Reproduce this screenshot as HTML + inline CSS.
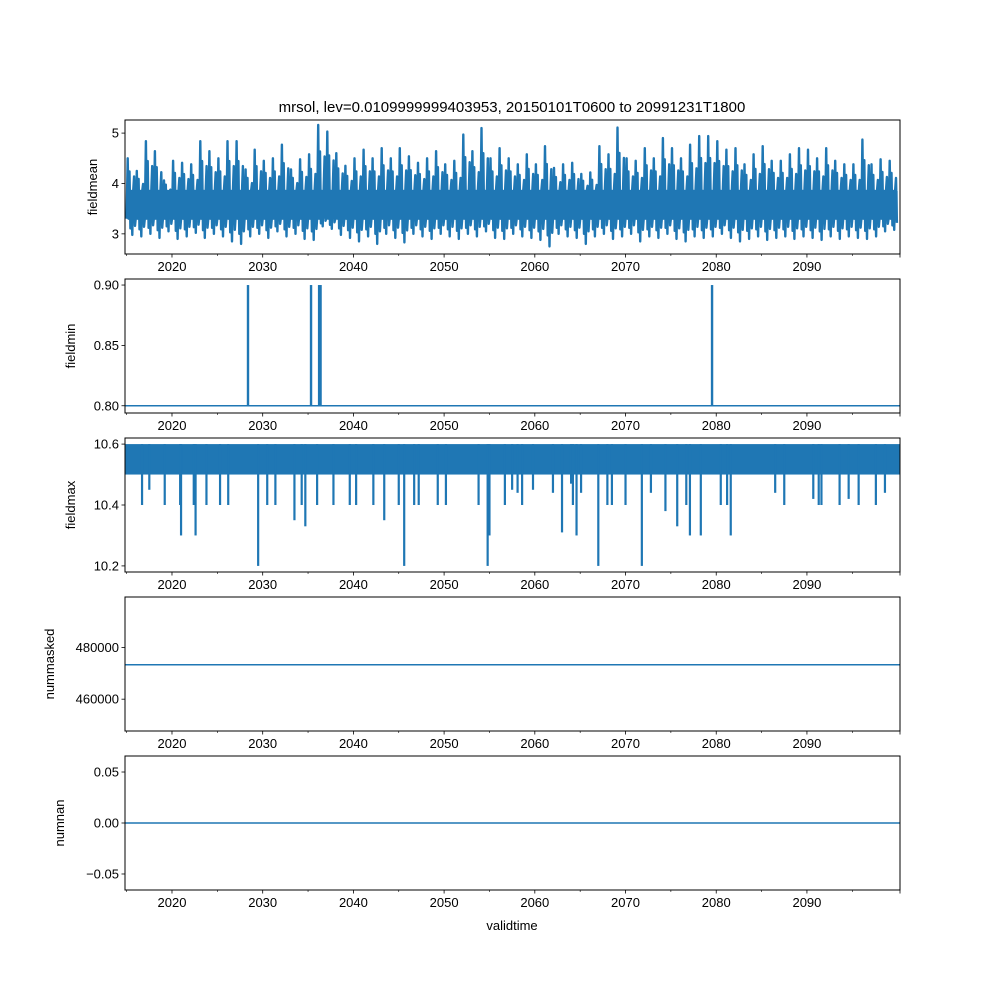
<!DOCTYPE html>
<html><head><meta charset="utf-8">
<style>
html,body{margin:0;padding:0;background:#fff;}
svg{display:block;font-family:"Liberation Sans","DejaVu Sans",sans-serif;}
</style></head>
<body>
<svg id="chart" width="1000" height="1000" viewBox="0 0 1000 1000" xmlns="http://www.w3.org/2000/svg">
<rect width="1000" height="1000" fill="#fff"/>
<text x="512" y="112" font-size="15" text-anchor="middle" fill="#000">mrsol, lev=0.0109999999403953, 20150101T0600 to 20991231T1800</text>
<text x="512" y="930" font-size="13" text-anchor="middle" fill="#000">validtime</text>
</svg>
<script>
// ---- data ----
const xTickYears = [2020, 2030, 2040, 2050, 2060, 2070, 2080, 2090];
const xMinorYears = [2015, 2025, 2035, 2045, 2055, 2065, 2075, 2085, 2095];
const meanYears = [];
for (let y = 2015; y <= 2099; y++) meanYears.push(y);
const meanHigh = [4.5,4.25,4.84,4.64,4.06,4.45,4.41,4.38,4.84,4.64,4.5,4.84,4.84,4.28,4.67,4.45,4.5,4.77,4.28,4.48,4.58,5.16,5.03,4.6,4.35,4.5,4.67,4.5,4.7,4.5,4.7,4.54,4.41,4.5,4.64,4.38,4.45,4.97,4.64,5.1,4.5,4.7,4.5,4.38,4.58,4.38,4.74,4.31,4.38,4.41,4.19,4.22,4.74,4.58,5.11,4.5,4.45,4.7,4.5,4.9,4.7,4.5,4.77,4.94,4.94,4.84,4.67,4.7,4.38,4.58,4.74,4.45,4.45,4.58,4.7,4.67,4.5,4.7,4.45,4.38,4.38,4.87,4.38,4.48,4.45];
const meanLow = [2.98,2.95,3.0,2.92,3.05,2.9,2.95,3.02,2.92,3.0,2.95,2.85,2.8,2.95,3.0,2.92,3.05,2.95,3.0,2.9,2.88,3.15,3.1,2.98,2.92,2.85,2.95,2.8,3.0,2.92,2.83,3.0,2.95,2.9,3.0,2.95,2.9,3.0,2.95,3.05,2.92,2.9,3.0,2.95,2.92,2.88,2.75,3.0,2.95,2.92,2.8,2.95,3.0,2.9,2.95,3.0,2.85,2.95,2.92,3.0,2.9,2.85,2.95,2.92,2.95,3.0,2.92,2.85,2.9,2.95,2.88,2.92,2.95,2.9,2.95,2.92,2.88,2.95,2.9,2.95,2.92,2.9,2.95,3.05,3.08];
const meanCore = [3.3, 3.85];
const minBase = 0.8;
const minSpikeYears = [2028.38, 2035.33, 2036.22, 2036.38, 2079.54];
const minSpikeVals = [0.9, 0.9, 0.9, 0.9, 0.9];
const maxTop = 10.6, maxBand = 10.5;
const maxDipYears = [2016.7,2017.5,2019.2,2021.0,2022.4,2023.8,2020.9,2025.3,2022.6,2026.2,2030.5,2031.4,2033.5,2034.3,2036.0,2037.8,2029.5,2040.3,2042.2,2045.6,2047.2,2049.3,2050.2,2034.7,2039.6,2043.4,2045.0,2046.7,2053.8,2054.8,2055.0,2056.7,2057.5,2058.1,2058.6,2059.8,2062.0,2063.0,2064.0,2064.2,2065.1,2064.6,2067.0,2068.0,2068.5,2070.0,2071.8,2072.8,2074.4,2075.7,2076.7,2077.1,2078.3,2080.5,2081.2,2081.6,2086.5,2087.5,2090.7,2091.3,2091.6,2093.6,2094.6,2095.7,2097.6,2098.6];
const maxDipVals  = [10.4,10.45,10.4,10.3,10.4,10.4,10.4,10.4,10.3,10.4,10.4,10.4,10.35,10.4,10.4,10.4,10.2,10.4,10.4,10.2,10.4,10.4,10.4,10.33,10.4,10.35,10.4,10.4,10.4,10.2,10.3,10.4,10.45,10.44,10.4,10.45,10.44,10.31,10.47,10.4,10.44,10.3,10.2,10.4,10.4,10.4,10.2,10.44,10.38,10.33,10.4,10.3,10.3,10.4,10.4,10.3,10.44,10.4,10.42,10.4,10.4,10.4,10.42,10.4,10.4,10.44];
const maskedVal = 473300;
const nanVal = 0;
const panelYTicks = [[3,4,5],[0.80,0.85,0.90],[10.2,10.4,10.6],[460000,480000],[-0.05,0.00,0.05]];
const panelYLabels = [["3","4","5"],["0.80","0.85","0.90"],["10.2","10.4","10.6"],["460000","480000"],["−0.05","0.00","0.05"]];
const panelNames = ["fieldmean","fieldmin","fieldmax","nummasked","numnan"];
const panelYDomains = [[2.6,5.26],[0.794,0.905],[10.18,10.62],[447700,499500],[-0.0657,0.0657]];

// ---- layout ----
const svg = document.getElementById('chart');
const NS = 'http://www.w3.org/2000/svg';
const L = 125, R = 900;
const tops = [120, 279, 438, 597, 756], H = 134;
const xDom = [2014.82, 2100.26];
const C = '#1f77b4';
function xs(v){ return L + (v - xDom[0]) / (xDom[1] - xDom[0]) * (R - L); }
function mk(tag, attrs, parent){
  const e = document.createElementNS(NS, tag);
  for (const k in attrs) e.setAttribute(k, attrs[k]);
  (parent || svg).appendChild(e);
  return e;
}

tops.forEach((top, i) => {
  const g = mk('g', {});
  
  
  const dom = panelYDomains[i];
  const ys = v => top + H - (v - dom[0]) / (dom[1] - dom[0]) * H;
  const clipId = 'clip' + i;
  const cp = mk('clipPath', {id: clipId}, g);
  mk('rect', {x: L, y: top, width: R - L, height: H}, cp);
  const dg = mk('g', {'clip-path': 'url(#' + clipId + ')'}, g);
  
  

  if (i === 0) {
    const b = mk('rect', {x: xs(meanYears[0]), y: ys(meanCore[1]), width: xs(meanYears[meanYears.length-1] + 1) - xs(meanYears[0]), height: ys(meanCore[0]) - ys(meanCore[1]), fill: C}, dg);
    
    
    let pts = [];
    meanYears.forEach((y, k) => {
      const hi = meanHigh[k], lo = meanLow[k];
      const hi2 = meanCore[1] + (hi - meanCore[1]) * 0.6;
      const lo2 = meanCore[0] - (meanCore[0] - lo) * 0.6;
      pts.push([y + 0.0, meanCore[0]], [y + 0.12, hi], [y + 0.22, meanCore[0]], [y + 0.32, hi2],
               [y + 0.42, lo2], [y + 0.52, meanCore[1]], [y + 0.62, lo], [y + 0.72, meanCore[1]],
               [y + 0.82, hi2 - 0.1], [y + 0.92, lo2 + 0.05]);
    });
    const p = mk('polyline', {points: pts.map(q => xs(q[0]).toFixed(1) + ',' + ys(q[1]).toFixed(1)).join(' '), fill: 'none', stroke: C, 'stroke-width': 2.4, 'stroke-linejoin': 'round'}, dg);
    
    
  } else if (i === 1) {
    const ln = mk('line', {x1: L, x2: R, y1: ys(minBase), y2: ys(minBase), stroke: C, 'stroke-width': 1.5}, dg);
    
    
    minSpikeYears.forEach((y, k) => {
      const s = mk('rect', {x: xs(y) - 1.2, y: ys(minSpikeVals[k]), width: 2.4, height: ys(minBase) - ys(minSpikeVals[k]), fill: C}, dg);
      
      
    });
  } else if (i === 2) {
    const b = mk('rect', {x: L, y: ys(maxTop), width: R - L, height: ys(maxBand) - ys(maxTop), fill: C}, dg);
    
    
    maxDipYears.forEach((y, k) => {
      const s = mk('rect', {x: xs(y) - 1.1, y: ys(maxTop), width: 2.2, height: ys(maxDipVals[k]) - ys(maxTop), fill: C}, dg);
      
      
    });
  } else {
    const v = i === 3 ? maskedVal : nanVal;
    const ln = mk('line', {x1: L, x2: R, y1: ys(v), y2: ys(v), stroke: C, 'stroke-width': 1.5}, dg);
    
    
  }

  const fr = mk('rect', {x: L, y: top, width: R - L, height: H, fill: 'none', stroke: '#000', 'stroke-width': 1}, g);
  
  

  panelYTicks[i].forEach((t, k) => {
    const y = ys(t);
    mk('line', {x1: L - 3.5, x2: L, y1: y, y2: y, stroke: '#000', 'stroke-width': 0.8}, g);
    const tx = mk('text', {x: L - 6, y: y + 4.5, 'font-size': 13, 'text-anchor': 'end', fill: '#000'}, g);
    
    
    tx.textContent = panelYLabels[i][k];
  });
  const yt = mk('text', {x: 0, y: 0, 'font-size': 13, 'text-anchor': 'middle', fill: '#000', transform: 'translate(' + (i === 0 ? 97 : (i === 1 ? 75 : (i === 2 ? 75 : (i === 3 ? 54 : 64)))) + ',' + (top + H / 2) + ') rotate(-90)'}, g);
  
  
  yt.textContent = panelNames[i];

  xTickYears.forEach(t => {
    const x = xs(t);
    mk('line', {x1: x, x2: x, y1: top + H, y2: top + H + 3.5, stroke: '#000', 'stroke-width': 0.8}, g);
    const tx = mk('text', {x: x, y: top + H + 17, 'font-size': 13, 'text-anchor': 'middle', fill: '#000'}, g);
    
    
    tx.textContent = String(t);
  });
  xMinorYears.forEach(t => {
    const x = xs(t);
    mk('line', {x1: x, x2: x, y1: top + H, y2: top + H + 2, stroke: '#000', 'stroke-width': 0.6}, g);
  });
  mk('line', {x1: R, x2: R, y1: top + H, y2: top + H + 3.5, stroke: '#000', 'stroke-width': 0.8}, g);
});
</script>
</body></html>
